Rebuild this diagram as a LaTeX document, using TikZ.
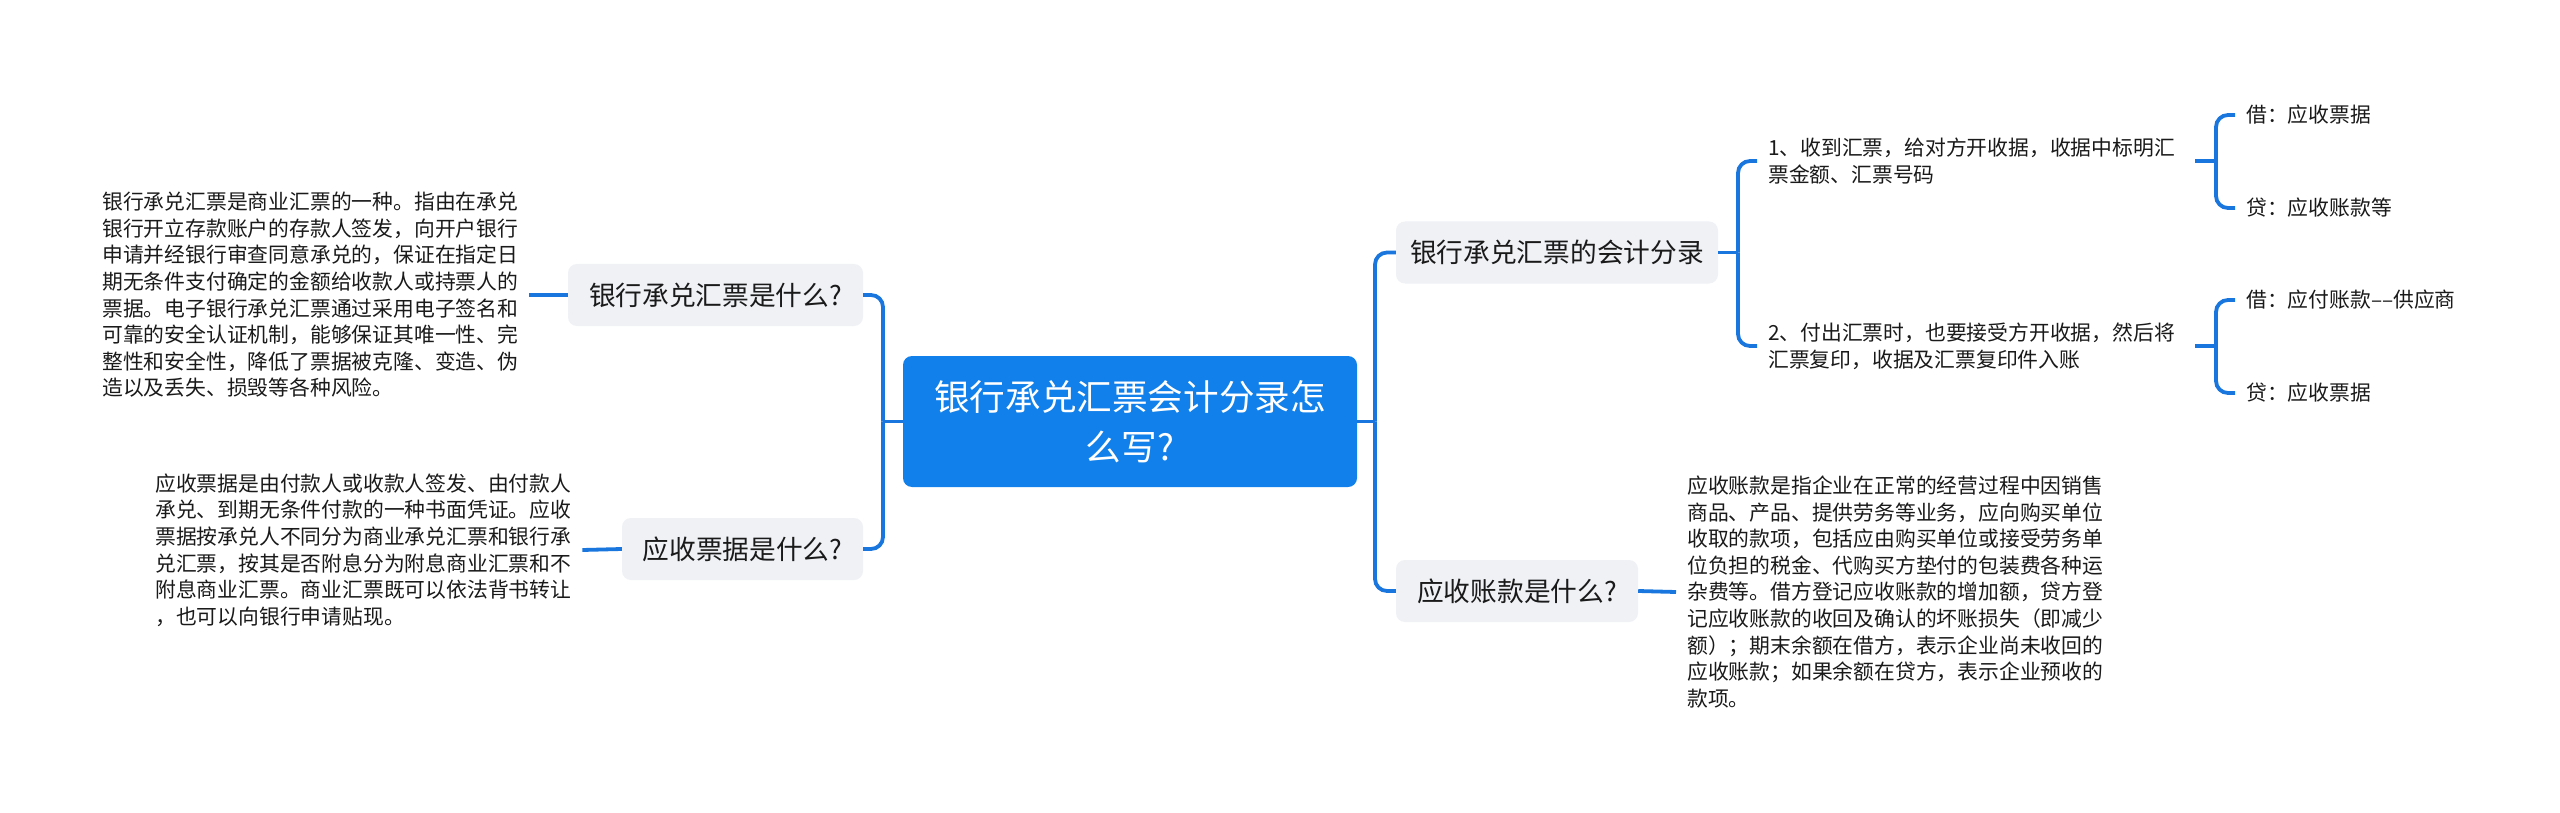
\documentclass[tikz,border=0pt]{standalone}
\usepackage{fontspec}
\setmainfont{Noto Sans CJK SC}
\definecolor{linec}{RGB}{24,118,222}
\definecolor{mainc}{RGB}{17,128,234}
\definecolor{subc}{RGB}{239,241,245}
\definecolor{txtc}{RGB}{26,26,26}
\begin{document}
\begin{tikzpicture}[x=1pt,y=-1pt,
  conn/.style={draw=linec,line width=3.8pt},
  topic/.style={fill=subc,rounded corners=9pt,text=txtc,font=\fontsize{26.7}{32}\selectfont,minimum height=62pt,inner sep=0pt},
  body/.style={text=txtc,font=\fontsize{20.8}{26.6}\selectfont,align=left,inner xsep=11pt,inner ysep=0pt},
  rootbox/.style={fill=mainc,rounded corners=9pt,text=white,font=\fontsize{35.6}{50}\selectfont,align=center,minimum width=454pt,minimum height=131pt,inner sep=0pt}
]
\useasboundingbox (0,0) rectangle (2560,813);
\fill[white] (0,0) rectangle (2560,813);

% nodes
\node[rootbox] (root) at (1130,421.5) {银行承兑汇票会计分录怎\\么写?};

\node[topic,minimum width=295pt] (na) at (715.5,295) {银行承兑汇票是什么?};
\node[topic,minimum width=241pt] (nb) at (742.5,549) {应收票据是什么?};
\node[topic,minimum width=322pt] (nc) at (1557,252.5) {银行承兑汇票的会计分录};
\node[topic,minimum width=242pt] (nd) at (1517,591) {应收账款是什么?};

\node[body,anchor=west] (ta) at (91,295) {银行承兑汇票是商业汇票的一种。指由在承兑\\
银行开立存款账户的存款人签发，向开户银行\\
申请并经银行审查同意承兑的，保证在指定日\\
期无条件支付确定的金额给收款人或持票人的\\
票据。电子银行承兑汇票通过采用电子签名和\\
可靠的安全认证机制，能够保证其唯一性、完\\
整性和安全性，降低了票据被克隆、变造、伪\\
造以及丢失、损毁等各种风险。};

\node[body,anchor=west] (tb) at (144,550) {应收票据是由付款人或收款人签发、由付款人\\
承兑、到期无条件付款的一种书面凭证。应收\\
票据按承兑人不同分为商业承兑汇票和银行承\\
兑汇票，按其是否附息分为附息商业汇票和不\\
附息商业汇票。商业汇票既可以依法背书转让\\
，也可以向银行申请贴现。};

\node[body,anchor=west] (td) at (1676,592) {应收账款是指企业在正常的经营过程中因销售\\
商品、产品、提供劳务等业务，应向购买单位\\
收取的款项，包括应由购买单位或接受劳务单\\
位负担的税金、代购买方垫付的包装费各种运\\
杂费等。借方登记应收账款的增加额，贷方登\\
记应收账款的收回及确认的坏账损失（即减少\\
额）；期末余额在借方，表示企业尚未收回的\\
应收账款；如果余额在贷方，表示企业预收的\\
款项。};

\node[body,anchor=west,text width=416pt] (i1) at (1757,161) {1、收到汇票，给对方开收据，收据中标明汇\\票金额、汇票号码};
\node[body,anchor=west,text width=416pt] (i2) at (1757,346) {2、付出汇票时，也要接受方开收据，然后将\\汇票复印，收据及汇票复印件入账};

\node[body,anchor=west] (l1) at (2235,115) {借：应收票据};
\node[body,anchor=west] (l2) at (2235,208) {贷：应收账款等};
\node[body,anchor=west] (l3) at (2235,300) {借：应付账款––供应商};
\node[body,anchor=west] (l4) at (2235,393) {贷：应收票据};

% junctions
\coordinate (jl) at (883,421.5);
\coordinate (jr) at (1375,421.5);
\coordinate (jc) at (1738,252.5);
\coordinate (j1) at (2216,161);
\coordinate (j2) at (2216,346);

% connectors
\draw[conn] (ta.east) -- (na.west);
\draw[conn] (tb.east) -- (nb.west);
\draw[conn,rounded corners=12pt] (na.east) -| (jl);
\draw[conn,rounded corners=12pt] (nb.east) -| (jl);
\draw[conn] (jl) -- (root.west);

\draw[conn] (root.east) -- (jr);
\draw[conn,rounded corners=12pt] (jr) |- (nc.west);
\draw[conn,rounded corners=12pt] (jr) |- (nd.west);
\draw[conn] (nd.east) -- (td.west);

\draw[conn] (nc.east) -- (jc);
\draw[conn,rounded corners=12pt] (jc) |- (i1.west);
\draw[conn,rounded corners=12pt] (jc) |- (i2.west);

\draw[conn] (i1.east) -- (j1);
\draw[conn,rounded corners=12pt] (j1) |- (l1.west);
\draw[conn,rounded corners=12pt] (j1) |- (l2.west);
\draw[conn] (i2.east) -- (j2);
\draw[conn,rounded corners=12pt] (j2) |- (l3.west);
\draw[conn,rounded corners=12pt] (j2) |- (l4.west);
\end{tikzpicture}
\end{document}
